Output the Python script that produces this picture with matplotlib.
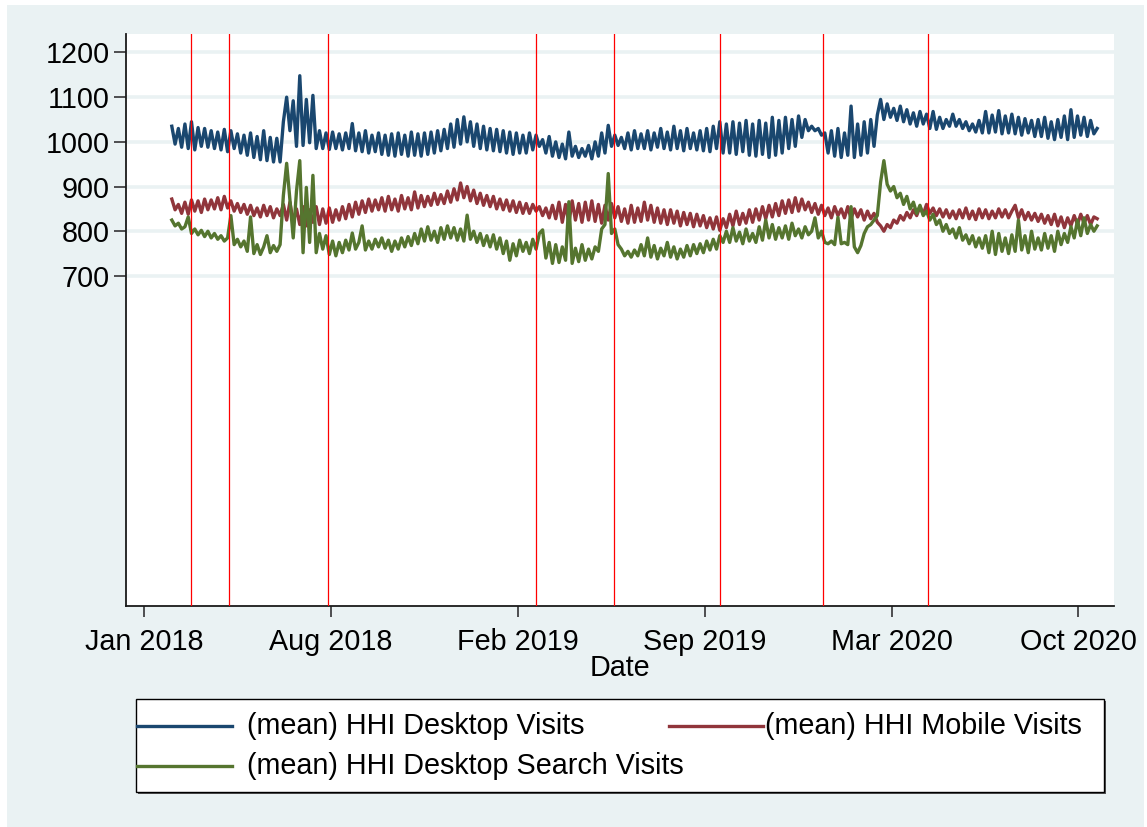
import matplotlib
matplotlib.use("Agg")
import matplotlib.pyplot as plt
from matplotlib.patches import Rectangle
from matplotlib.lines import Line2D
import pandas as pd

plt.rcParams['font.family'] = ['Liberation Sans', 'DejaVu Sans']

# ---------------- data (~2 points per week) ----------------
start_date = "2018-02-15"
end_date = "2020-11-01"

desktop = [
    1035, 995, 1030, 988,
    1040, 985, 1045, 982, 1032, 990, 1030, 988, 1025,
    985, 1022, 982, 1028, 978, 1025, 985, 1018,
    975, 1015, 970, 1020, 965, 1012, 960, 1025, 958,
    1010, 955, 1008, 955, 1045, 1100, 1025, 1092, 990,
    1148, 992, 1095, 998, 1104, 985, 1025, 985, 1020,
    983, 1022, 985, 1018, 982, 1020, 985, 1041, 980,
    1020, 978, 1025, 975, 1015, 978, 1020, 972,
    1015, 970, 1018, 968, 1020, 972, 1015, 968, 1022,
    970, 1018, 968, 1020, 972, 1022, 975, 1025, 980,
    1028, 985, 1040, 988, 1050, 995, 1056, 1000,
    1045, 990, 1040, 985, 1035, 982, 1030, 980, 1028,
    978, 1025, 975, 1022, 972, 1020, 975, 1015,
    975, 1020, 982, 1015, 990, 1005, 975, 1012, 968,
    1000, 965, 995, 962, 1022, 968, 990, 965, 985,
    968, 992, 962, 1000, 968, 1020, 975, 1037, 990,
    1015, 992, 1010, 985, 1020, 982, 1025, 985,
    1018, 985, 1025, 982, 1020, 988, 1030, 985, 1022,
    982, 1035, 985, 1025, 980, 1030, 985, 1020, 982,
    1025, 980, 1030, 978, 1035, 985, 1045, 975,
    1040, 975, 1045, 972, 1042, 978, 1048, 970, 1040,
    968, 1048, 972, 1042, 965, 1055, 970, 1048, 975,
    1055, 985, 1050, 990, 1058, 1010, 1050, 1025, 1035,
    1025, 1030, 1015, 1020, 975, 1025, 968, 1030, 965,
    1020, 970, 1080, 965, 1040, 970, 1045, 975,
    1050, 990, 1060, 1095, 1050, 1085, 1055, 1075, 1048,
    1080, 1045, 1072, 1040, 1065, 1035, 1068, 1040,
    1062, 1030, 1068, 1028, 1055, 1030, 1050, 1035, 1062,
    1035, 1050, 1030, 1045, 1025, 1040, 1022, 1048, 1020,
    1068, 1020, 1060, 1022, 1070, 1018, 1058, 1020, 1062,
    1018, 1055, 1015, 1052, 1020, 1048, 1012, 1050,
    1012, 1055, 1008, 1045, 1005, 1050, 1010, 1058, 1005,
    1072, 1010, 1058, 1015, 1055, 1012, 1048, 1018, 1030,
]

mobile = [
    872, 848, 860, 840,
    865, 838, 870, 845, 868, 842, 872, 848, 870,
    850, 875, 848, 878, 852, 868, 845, 862,
    842, 860, 838, 858, 835, 852, 832, 858, 835,
    855, 830, 850, 835, 860, 825, 865, 820, 850,
    815, 855, 812, 848, 820, 855, 815, 850, 818,
    852, 820, 848, 825, 855, 828, 860, 832, 865,
    838, 868, 842, 872, 845, 870, 848, 875,
    845, 878, 848, 872, 845, 880, 850, 875, 848,
    888, 852, 880, 855, 878, 858, 885, 860, 882,
    862, 890, 865, 895, 870, 908, 875, 900,
    868, 892, 862, 885, 858, 880, 855, 878, 850,
    872, 848, 870, 845, 868, 842, 865, 840,
    862, 840, 860, 845, 855, 835, 852, 830, 858,
    828, 865, 820, 860, 818, 868, 825, 862, 820,
    865, 825, 868, 822, 860, 818, 858, 825, 862,
    830, 855, 822, 850, 818, 858, 820, 852,
    822, 865, 825, 858, 820, 852, 818, 848, 815,
    848, 818, 845, 812, 842, 815, 840, 810, 838,
    812, 835, 808, 830, 805, 832, 802, 828,
    808, 838, 812, 845, 815, 840, 818, 848, 820,
    850, 825, 855, 828, 858, 832, 862, 835, 868,
    840, 870, 842, 875, 845, 872, 848, 865, 842,
    862, 838, 858, 835, 852, 830, 855, 835, 850,
    830, 855, 828, 850, 832, 848, 825, 845,
    828, 840, 820, 812, 800, 815, 808, 825, 818,
    835, 825, 842, 830, 848, 835, 855, 838,
    860, 840, 852, 835, 850, 832, 848, 830, 845,
    828, 848, 830, 852, 828, 845, 826, 850, 830,
    848, 828, 845, 830, 850, 832, 848, 830, 845,
    858, 830, 848, 826, 842, 825, 840, 822,
    838, 818, 835, 815, 838, 812, 832, 808, 830,
    812, 835, 815, 838, 818, 835, 815, 832, 828,
]

search = [
    825, 812, 818, 805,
    810, 832, 795, 805, 792, 802, 788, 800, 785,
    795, 782, 790, 778, 785, 835, 770, 782,
    765, 778, 755, 832, 750, 770, 748, 765, 790,
    752, 768, 755, 770, 880, 952, 870, 785, 890,
    958, 752, 898, 775, 925, 752, 795, 760, 790,
    748, 778, 745, 775, 752, 780, 758, 796, 760,
    775, 812, 758, 778, 760, 782, 765, 785,
    762, 780, 755, 778, 760, 785, 765, 788, 768,
    795, 772, 805, 778, 810, 780, 800, 775, 808,
    782, 812, 785, 808, 780, 805, 778, 836,
    782, 800, 775, 795, 768, 790, 765, 792, 760,
    785, 750, 778, 735, 772, 745, 780, 755,
    775, 750, 782, 760, 795, 803, 740, 775, 728,
    770, 730, 765, 735, 866, 728, 762, 732, 770,
    735, 760, 738, 765, 755, 805, 815, 929, 795,
    805, 770, 760, 745, 755, 742, 758, 745,
    770, 745, 785, 742, 768, 738, 762, 745, 775,
    742, 765, 738, 760, 742, 768, 745, 770, 750,
    772, 752, 778, 758, 782, 760, 790, 775,
    800, 775, 808, 778, 798, 772, 805, 778, 795,
    775, 810, 780, 825, 785, 815, 782, 808, 785,
    812, 782, 818, 790, 805, 785, 810, 792, 800,
    830, 785, 800, 775, 772, 778, 770, 831, 772,
    775, 770, 855, 765, 752, 768, 795, 810,
    815, 825, 835, 910, 958, 905, 890, 900, 875,
    885, 860, 878, 850, 865, 840, 858, 835,
    845, 825, 838, 815, 825, 800, 815, 795, 805,
    785, 808, 780, 792, 772, 790, 765, 785, 762,
    790, 752, 800, 748, 795, 755, 785, 750, 792,
    755, 825, 758, 790, 752, 800, 760, 785,
    758, 795, 762, 790, 755, 800, 770, 795, 775,
    810, 785, 825, 790, 830, 795, 815, 800, 812,
]

update_dates = ["2018-03-08", "2018-04-17", "2018-08-01", "2019-03-12",
                "2019-06-03", "2019-09-24", "2020-01-13", "2020-05-04"]

xtick_dates = ["2018-01-16", "2018-08-04", "2019-02-20", "2019-09-08",
               "2020-03-26", "2020-10-12"]
xtick_labels = ["Jan 2018", "Aug 2018", "Feb 2019", "Sep 2019", "Mar 2020", "Oct 2020"]
ytick_values = [700, 800, 900, 1000, 1100, 1200]

series_labels = ["(mean) HHI Desktop Visits", "(mean) HHI Mobile Visits",
                 "(mean) HHI Desktop Search Visits"]
colors = ["#1A476F", "#90353B", "#55752F"]

FS = 20.7

# ---------------- figure ----------------
W, H = 1147, 827
fig = plt.figure(figsize=(W / 100, H / 100), dpi=100, facecolor="white")


def fx(x):
    return x / W


def fy(y):
    return 1 - y / H


bg = Rectangle((fx(7), 0), fx(1144) - fx(7), fy(5), transform=fig.transFigure,
               facecolor="#EAF2F3", edgecolor="none", zorder=-10)
fig.patches.append(bg)

ax = fig.add_axes([fx(126), fy(606), fx(1114) - fx(126), fy(34) - fy(606)])
ax.set_facecolor("white")

for vals, col in zip([desktop, mobile, search], colors):
    d = pd.date_range(start_date, end_date, periods=len(vals))
    ax.plot(d, vals, color=col, lw=2.4, solid_joinstyle="round", zorder=3)

for ud in update_dates:
    ax.axvline(pd.Timestamp(ud), color="#FF0000", lw=0.9, zorder=4)

ax.set_ylim(-38.7, 1241.4)
ax.set_xlim(pd.Timestamp("2017-12-28"), pd.Timestamp("2020-11-19"))

ax.set_yticks(ytick_values)
ax.set_yticklabels([str(v) for v in ytick_values])
ax.set_xticks([pd.Timestamp(t) for t in xtick_dates])
ax.set_xticklabels(xtick_labels)

ax.grid(axis="y", color="#EAF2F3", lw=2.6, zorder=1)
ax.set_axisbelow(True)

for s in ["top", "right"]:
    ax.spines[s].set_visible(False)
for s in ["left", "bottom"]:
    ax.spines[s].set_color("#1a1a1a")
    ax.spines[s].set_linewidth(1.3)

ax.tick_params(axis="y", length=8.5, width=1.2, color="#333333", pad=3.0,
               labelsize=FS, labelcolor="black")
ax.tick_params(axis="x", length=8, width=1.2, color="#333333", pad=7.5,
               labelsize=FS, labelcolor="black")

ax.set_xlabel("Date", fontsize=FS, labelpad=-1)

# ---------------- legend (Stata-like box) ----------------
shadow = Rectangle((fx(138), fy(794)), fx(1106) - fx(138), fy(701) - fy(794),
                   transform=fig.transFigure, facecolor="#555555", edgecolor="none", zorder=1)
fig.patches.append(shadow)
box = Rectangle((fx(136), fy(792)), fx(1104) - fx(136), fy(699) - fy(792),
                transform=fig.transFigure, facecolor="white", edgecolor="black",
                lw=1.0, zorder=2)
fig.patches.append(box)

entries = [
    (137, 232, 247, 725.5),
    (669, 763, 765, 725.5),
    (137, 232, 247, 766),
]
for (x0, x1, xt, yy), lab, col in zip(entries, series_labels, colors):
    fig.add_artist(Line2D([fx(x0), fx(x1)], [fy(yy), fy(yy)], transform=fig.transFigure,
                          color=col, lw=2.4, zorder=3))
    fig.text(fx(xt), fy(yy), lab, fontsize=FS, va="center", ha="left", zorder=3)

fig.savefig("out.png", dpi=100, facecolor="white")
